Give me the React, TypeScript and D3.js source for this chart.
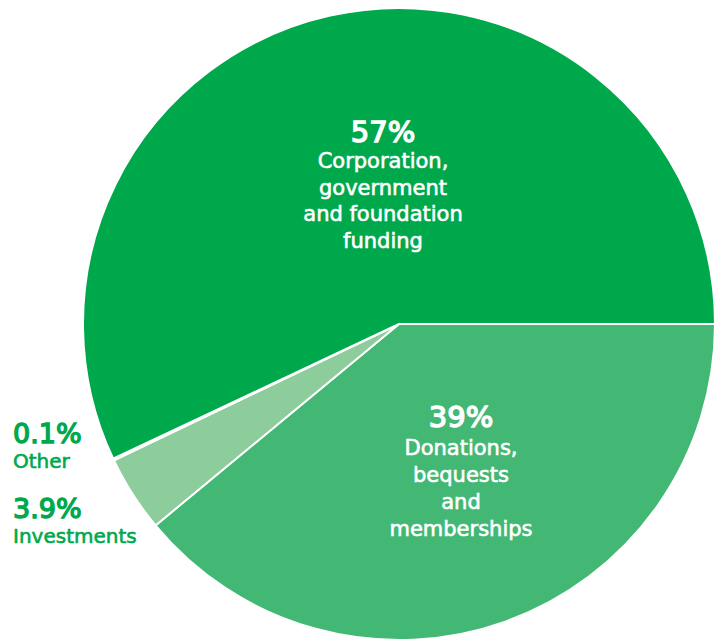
import React, { useEffect, useRef } from 'react';
import * as d3 from 'd3';

// Revenue sources, in drawing order (clockwise from 3 o'clock)
const categories = ['Donations, bequests and memberships', 'Investments', 'Other', 'Corporation, government and foundation funding'];
const values = [39, 3.9, 0.1, 57];
const percentLabels = ['39%', '3.9%', '0.1%', '57%'];
const insideLines = [
  ['Donations,', 'bequests', 'and', 'memberships'],
  [],
  [],
  ['Corporation,', 'government', 'and foundation', 'funding'],
];
const outsideNames = ['', 'Investments', 'Other', ''];
const colors = ['#43b875', '#8dcc9b', '#c6e6cc', '#00a84c'];

export default function App() {
  const svgRef = useRef<SVGSVGElement>(null);

  useEffect(() => {
    if (!svgRef.current) return;
    const svg = d3.select(svgRef.current);
    svg.selectAll('*').remove();

    const width = 716;
    const height = 641;
    const cx = 399;
    const cy = 324;
    const radius = 316;
    const font = '"DejaVu Sans", "Liberation Sans", sans-serif';

    const data = categories.map((c, i) => ({ name: c, value: values[i], i }));

    const pie = d3.pie<{ name: string; value: number; i: number }>()
      .sort(null)
      .value(d => d.value)
      .startAngle(Math.PI / 2)
      .endAngle(Math.PI / 2 + 2 * Math.PI);

    const arc = d3.arc<d3.PieArcDatum<{ name: string; value: number; i: number }>>()
      .innerRadius(0)
      .outerRadius(radius);

    const g = svg.append('g').attr('transform', `translate(${cx},${cy})`);

    g.selectAll('path')
      .data(pie(data))
      .enter()
      .append('path')
      .attr('d', arc)
      .attr('fill', d => colors[d.data.i])
      .attr('stroke', '#fff')
      .attr('stroke-width', 2)
      .attr('stroke-linejoin', 'round');

    // labels inside the two big slices
    const inside = [
      { i: 3, x: 383, pctY: 142, firstY: 168, step: 26.5 },
      { i: 0, x: 461, pctY: 427, firstY: 455, step: 27 },
    ];
    inside.forEach(l => {
      svg.append('text')
        .attr('x', l.x)
        .attr('y', l.pctY)
        .attr('text-anchor', 'middle')
        .attr('font-family', font)
        .attr('font-size', 29)
        .attr('fill', '#fff')
        .attr('stroke', '#fff')
        .attr('stroke-width', 1.4)
        .text(percentLabels[l.i]);
      insideLines[l.i].forEach((line, k) => {
        svg.append('text')
          .attr('x', l.x)
          .attr('y', l.firstY + k * l.step)
          .attr('text-anchor', 'middle')
          .attr('font-family', font)
          .attr('font-size', 21)
          .attr('fill', '#fff')
          .attr('stroke', '#fff')
          .attr('stroke-width', 0.6)
          .text(line);
      });
    });

    // labels for the thin slices, on the left
    const outside = [
      { i: 2, pctY: 443, nameY: 468 },
      { i: 1, pctY: 518, nameY: 543 },
    ];
    outside.forEach(l => {
      svg.append('text')
        .attr('x', 13)
        .attr('y', l.pctY)
        .attr('font-family', font)
        .attr('font-size', 27)
        .attr('fill', colors[3])
        .attr('stroke', colors[3])
        .attr('stroke-width', 1.4)
        .text(percentLabels[l.i]);
      svg.append('text')
        .attr('x', 13)
        .attr('y', l.nameY)
        .attr('font-family', font)
        .attr('font-size', 20)
        .attr('fill', colors[3])
        .attr('stroke', colors[3])
        .attr('stroke-width', 0.6)
        .text(outsideNames[l.i]);
    });

    svg.attr('width', width).attr('height', height);
  }, []);

  return (
    <div style={{ position: 'absolute', left: 0, top: 0, background: '#fff' }}>
      <svg ref={svgRef} style={{ display: 'block' }}></svg>
    </div>
  );
}
